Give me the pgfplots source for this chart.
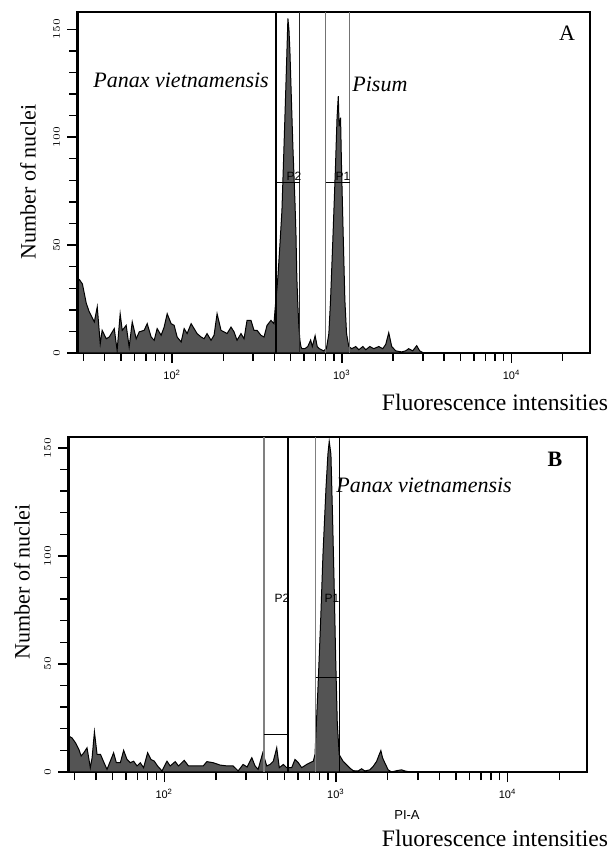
\documentclass[border=0pt]{standalone}
\usepackage{fontspec}
\setmainfont{Liberation Serif}
\setsansfont{Liberation Sans}
\usepackage{pgfplots}
\pgfplotsset{compat=1.18}

\begin{document}
\begin{tikzpicture}
\useasboundingbox (0,0) rectangle (306pt,426pt);

% ---------------- panel A ----------------
\begin{axis}[at={(38.5pt,249.5pt)}, anchor=south west,
    scale only axis, width=256.5pt, height=170.5pt,
    xmode=log, xmin=27.5, xmax=29000, ymin=0, ymax=158,
    axis line style={line width=0.6pt},
    tick align=outside, xtick pos=bottom, ytick pos=left,
    tick style={line width=0.7pt, black},
    xtick={100,1000,10000},
    xticklabels={10\textsuperscript{2},10\textsuperscript{3},10\textsuperscript{4}},
    minor xtick={30,40,50,60,70,80,90,200,300,400,500,600,700,800,900,2000,3000,4000,5000,6000,7000,8000,9000,20000},
    ytick={0,50,100,150},
    minor ytick={10,20,30,40,60,70,80,90,110,120,130,140},
    major tick length=5pt, minor tick length=4pt,
    xticklabel style={font=\sffamily\fontsize{5.5}{5.5}\selectfont},
    yticklabel style={font=\sffamily\fontsize{5}{5}\selectfont, rotate=90, anchor=south}]
\addplot[fill=black!67, draw=black, line width=0.5pt] coordinates {
(27.6,33) (28.4,34) (29.6,32) (31.2,23) (32.5,19) (34.8,14.4) (36.2,21.4) (37.7,4.3)
(38.7,10.5) (40.9,6.6) (42.6,7.4) (45.6,11.3) (47.4,1.2) (49.4,18.2) (50.8,10.5) (53.6,12.8)
(55.8,2.8) (58.2,14.4) (61.4,6.6) (64.0,9.8) (68.4,10.5) (71.3,13.6) (75.2,7.4) (78.4,5.9)
(81.6,11.3) (86.1,8.2) (89.7,12) (93.5,18.2) (98.6,13.6) (102.8,12.8) (107,7.4) (113,5.1)
(117.7,11.3) (122.5,9) (129.4,13.6) (134.7,11.3) (140.3,9) (148.2,7.4) (154.3,6.6) (160.6,9)
(169.5,5.9) (176.6,8.2) (184,18.2) (194.2,10.5) (202.2,9.8) (210.7,9) (222.3,12) (231.6,9.8)
(241.2,5.9) (254.5,9) (265.2,6.6) (276.3,15.1) (291.5,15.1) (303.7,10.5) (316.2,10.5) (333.9,8.2)
(347.9,7.4) (362.4,12.8) (382.3,15.1) (398.1,13.6) (404,20) (409,25) (414.8,30) (420.5,36)
(431.5,50) (443.6,66) (455.9,95) (468.6,125) (474.8,140) (481,155) (487.8,150) (494.3,140)
(501,125) (507.9,110) (515,95) (529.4,70) (536.7,55) (543,35) (550.8,22) (558.5,12)
(566,6) (574,3) (582,2) (606,2) (630,3) (655,6) (670,3) (696,8) (716,3) (737,2) (780,1) (811,2)
(838.6,9) (858,24.5) (888,55.5) (917,86) (937,109) (953,119) (964,105) (983,109) (996,86)
(1018,55.5) (1042,24.5) (1066,9) (1099,3) (1145,2) (1208,3) (1259,1.5) (1330,3) (1384,1.5)
(1462,3) (1542,2) (1651,3) (1742,2) (1815,4) (1890,9.4) (1968,3) (2078,1) (2253,0.5)
(2378,1) (2477,2) (2616,1) (2762,3.4) (2875,1) (3036,0) (29000,0)
} \closedcycle;
% gates
\addplot[black, line width=0.6pt] coordinates {(409,0) (409,158)};
\addplot[black!85, line width=0.6pt] coordinates {(566,0) (566,158)};
\addplot[black, line width=0.6pt] coordinates {(409,79) (566,79)};
\addplot[black!55, line width=0.6pt] coordinates {(805,0) (805,158)};
\addplot[black!55, line width=0.6pt] coordinates {(1114,0) (1114,158)};
\addplot[black, line width=0.6pt] coordinates {(805,79) (1114,79)};
\addplot[black, line width=1.8pt] coordinates {(27.5,0) (27.5,158)};
\end{axis}

\node[anchor=west, font=\itshape\fontsize{11}{11}\selectfont, inner sep=0pt] at (46.5pt,386pt) {Panax vietnamensis};
\node[anchor=west, font=\itshape\fontsize{11}{11}\selectfont, inner sep=0pt] at (176pt,384pt) {Pisum};
\node[font=\fontsize{11}{11}\selectfont, inner sep=0pt] at (283.5pt,409.5pt) {A};
\node[font=\sffamily\fontsize{6}{6}\selectfont, inner sep=0pt] at (147pt,338pt) {P2};
\node[font=\sffamily\fontsize{6}{6}\selectfont, inner sep=0pt] at (171.5pt,338pt) {P1};
\node[rotate=90, font=\fontsize{11}{11}\selectfont, inner sep=0pt] at (14pt,335pt) {Number of nuclei};
\node[font=\fontsize{11.8}{11.8}\selectfont, inner sep=0pt] at (247.5pt,225pt) {Fluorescence intensities};

% ---------------- panel B ----------------
\begin{axis}[at={(34pt,40pt)}, anchor=south west,
    scale only axis, width=259.5pt, height=167.5pt,
    xmode=log, xmin=27.5, xmax=29000, ymin=0, ymax=155,
    axis line style={line width=0.6pt},
    tick align=outside, xtick pos=bottom, ytick pos=left,
    tick style={line width=0.7pt, black},
    xtick={100,1000,10000},
    xticklabels={10\textsuperscript{2},10\textsuperscript{3},10\textsuperscript{4}},
    minor xtick={30,40,50,60,70,80,90,200,300,400,500,600,700,800,900,2000,3000,4000,5000,6000,7000,8000,9000,20000},
    ytick={0,50,100,150},
    minor ytick={10,20,30,40,60,70,80,90,110,120,130,140},
    major tick length=5pt, minor tick length=4pt,
    xticklabel style={font=\sffamily\fontsize{5.5}{5.5}\selectfont},
    yticklabel style={font=\sffamily\fontsize{5}{5}\selectfont, rotate=90, anchor=south}]
\addplot[fill=black!67, draw=black, line width=0.5pt] coordinates {
(27.8,16.6) (29.0,15.8) (30.4,13.5) (31.8,10.5) (32.8,7.4) (34.0,8.9) (35.5,11.2) (37.1,2)
(38.0,6.6) (39.2,18.6) (40.6,8.2) (42.5,8.2) (44.2,5) (46.4,1.2) (48.5,5) (50.7,8.9)
(52.6,4.3) (55.5,4.3) (58.0,10) (60.7,5.8) (63.4,4.3) (66.3,5) (69.4,2.8) (72.5,4.3)
(75.8,2) (80.0,8.9) (83.7,5.8) (87.5,5) (91.4,2.8) (97.0,0.5) (103.7,5) (108.3,2.8)
(115.8,4.8) (121.1,2.8) (130.7,5.4) (138.4,2.8) (147.4,2.8) (157.7,2.8) (168.6,2.8) (177.1,4.8)
(192.6,4.3) (211.6,3.2) (232.4,2.8) (251.9,2.8) (269.4,0.5) (287.9,3.5) (303.8,2.3) (323.6,6.6)
(338.1,2.8) (352.1,1.2) (374.9,8.9) (395.4,2.8) (413.3,3.5) (431.7,5) (452,11.2) (467.7,2)
(494,3.5) (516.6,2) (552.5,2) (577.5,5.8) (603.6,4.3) (631.6,2) (675.6,3.5) (706.3,4.3)
(738.2,5) (755.3,8.2) (786,39) (814.6,70) (839.7,100) (874.6,131) (897.8,147) (913.9,153)
(935,147) (957,116) (977.3,85) (995.6,54) (1018,23) (1045,8) (1102,4.9) (1153,3.4)
(1206,1.8) (1261,0.6) (1348,0.5) (1410,1.5) (1474,0.5) (1577,1) (1648,2.6) (1725,4.9)
(1786,8) (1827,9.9) (1870,6.5) (1927,4.2) (2015,1) (2109,0) (2254,0.6) (2409,1)
(2518,0.5) (2692,0) (29000,0)
} \closedcycle;
% gates
\addplot[black!50, line width=0.6pt] coordinates {(381,0) (381,155)};
\addplot[black, line width=0.6pt] coordinates {(526,0) (526,155)};
\addplot[black, line width=0.6pt] coordinates {(381,17.3) (526,17.3)};
\addplot[black!50, line width=0.6pt] coordinates {(762,0) (762,155)};
\addplot[black, line width=0.6pt] coordinates {(1045,0) (1045,155)};
\addplot[black, line width=0.6pt] coordinates {(762,43.7) (1045,43.7)};
\addplot[black, line width=1.8pt] coordinates {(27.5,0) (27.5,155)};
\end{axis}

\node[anchor=west, font=\itshape\fontsize{11}{11}\selectfont, inner sep=0pt] at (168pt,183.5pt) {Panax vietnamensis};
\node[font=\bfseries\fontsize{11}{11}\selectfont, inner sep=0pt] at (277.5pt,196.5pt) {B};
\node[font=\sffamily\fontsize{6}{6}\selectfont, inner sep=0pt] at (141pt,127pt) {P2};
\node[font=\sffamily\fontsize{6}{6}\selectfont, inner sep=0pt] at (166pt,127pt) {P1};
\node[font=\sffamily\fontsize{6.5}{6.5}\selectfont, inner sep=0pt] at (203.5pt,18.5pt) {PI-A};
\node[rotate=90, font=\fontsize{11}{11}\selectfont, inner sep=0pt] at (11pt,135pt) {Number of nuclei};
\node[font=\fontsize{11.8}{11.8}\selectfont, inner sep=0pt] at (247.5pt,7pt) {Fluorescence intensities};
\end{tikzpicture}
\end{document}
